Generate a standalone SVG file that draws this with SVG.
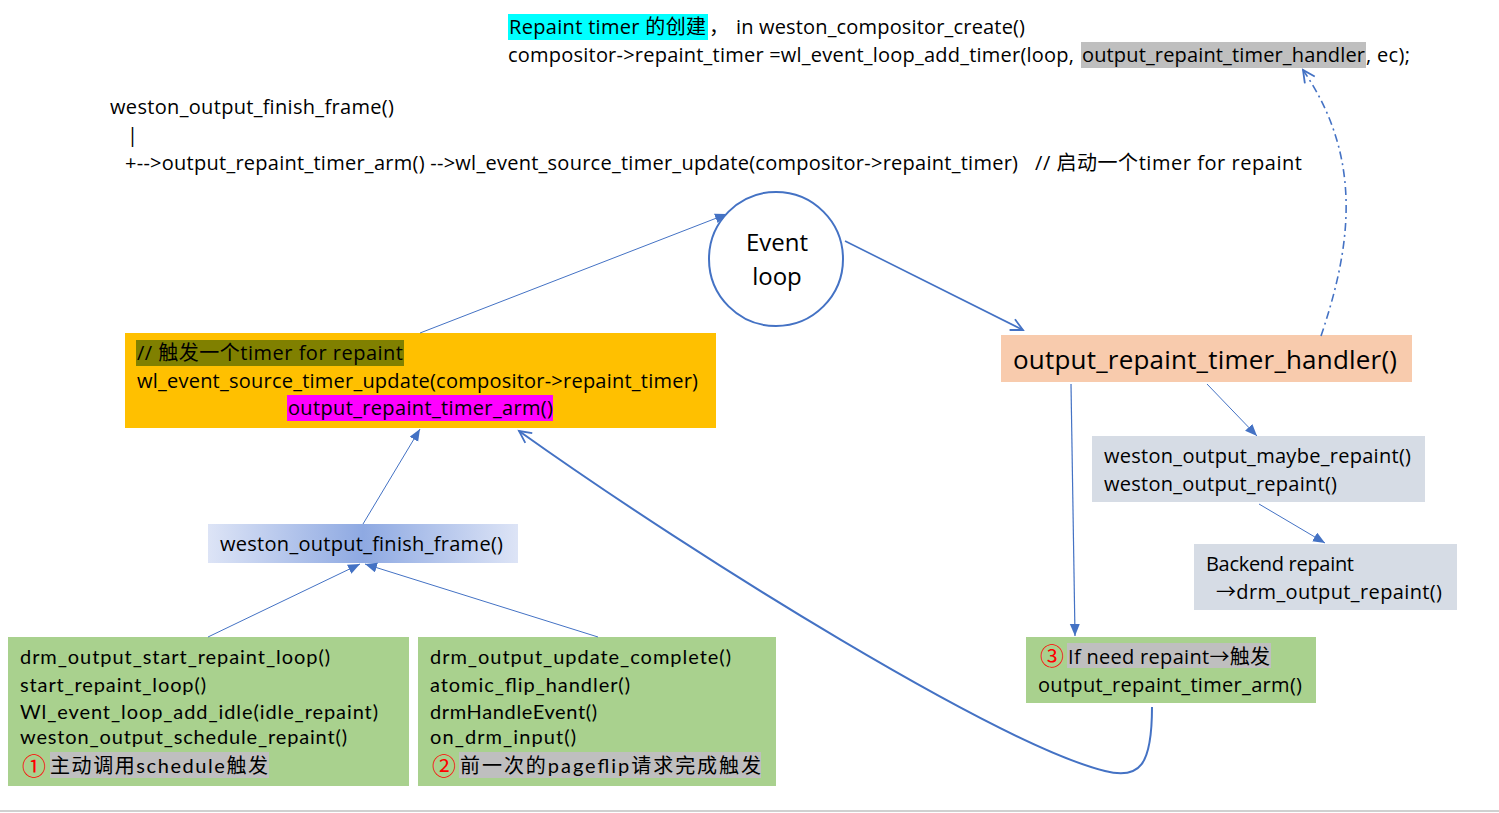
<svg xmlns="http://www.w3.org/2000/svg" width="1499" height="813" viewBox="0 0 1499 813">
<defs>
<style>
text{font-family:"Open Sans","Noto Sans CJK SC",sans-serif;font-size:20px;fill:#000}
.cal{font-family:Lato,"Noto Sans CJK SC",sans-serif}
.red{fill:#FF0000;font-family:"Noto Sans CJK SC",sans-serif;font-size:24px}
.ln{stroke:#4472C4;fill:none}
</style>
<marker id="tri" markerUnits="userSpaceOnUse" markerWidth="14" markerHeight="12" refX="12" refY="5" orient="auto">
<path d="M0,0 L12,5 L0,10 Z" fill="#4472C4"/>
</marker>
<marker id="vee" markerUnits="userSpaceOnUse" markerWidth="16" markerHeight="16" refX="13" refY="7" orient="auto">
<path d="M1,1 L13,7 L1,13" fill="none" stroke="#4472C4" stroke-width="1.8"/>
</marker>
<linearGradient id="grad" x1="0" y1="0" x2="1" y2="0">
<stop offset="0" stop-color="#DDE4F6"/>
<stop offset="0.5" stop-color="#8EA9E2"/>
<stop offset="1" stop-color="#DDE4F6"/>
</linearGradient>
</defs>
<rect x="0" y="0" width="1499" height="813" fill="#fff"/>
<line x1="0" y1="811" x2="1499" y2="811" stroke="#D0D0D0" stroke-width="2"/>

<g id="top-note">
<rect x="508" y="14" width="200" height="26" fill="#00FFFF"/>
<rect x="1081" y="42" width="285" height="26" fill="#BFBFBF"/>
<text x="509" y="34" textLength="197">Repaint timer 的创建</text>
<text x="709" y="34">，</text>
<text x="736" y="34" textLength="289">in weston_compositor_create()</text>
<text x="508" y="62" textLength="566">compositor-&gt;repaint_timer =wl_event_loop_add_timer(loop,</text>
<text x="1082" y="62" textLength="283">output_repaint_timer_handler</text>
<text x="1366" y="62" textLength="44">, ec);</text>
</g>

<g id="call-note">
<text x="110" y="114" textLength="284">weston_output_finish_frame()</text>
<text x="127" y="142">|</text>
<text x="125" y="170" textLength="893">+--&gt;output_repaint_timer_arm() --&gt;wl_event_source_timer_update(compositor-&gt;repaint_timer)</text>
<text x="1035" y="170" textLength="267">// 启动一个timer for repaint</text>
</g>

<g id="event-loop">
<circle cx="776" cy="259" r="67" fill="#fff" stroke="#4472C4" stroke-width="2"/>
<text x="777" y="251" text-anchor="middle" style="font-size:24px">Event</text>
<text x="777" y="285" text-anchor="middle" style="font-size:24px">loop</text>
</g>

<g id="timer-arm">
<rect x="125" y="333" width="591" height="95" fill="#FFC000"/>
<rect x="136" y="340" width="268" height="26" fill="#808000"/>
<rect x="287" y="395" width="266" height="26" fill="#FF00FF"/>
<text x="137" y="360" textLength="266">// 触发一个timer for repaint</text>
<text x="137" y="388" textLength="561">wl_event_source_timer_update(compositor-&gt;repaint_timer)</text>
<text x="288" y="415" textLength="265">output_repaint_timer_arm()</text>
</g>

<g id="timer-handler">
<rect x="1001" y="335" width="411" height="47" fill="#F8CBAD"/>
<text x="1013" y="369" textLength="384" style="font-size:26px">output_repaint_timer_handler()</text>
</g>

<g id="maybe-repaint">
<rect x="1092" y="436" width="333" height="66" fill="#D6DCE5"/>
<text x="1104" y="463" textLength="307">weston_output_maybe_repaint()</text>
<text x="1104" y="491" textLength="233">weston_output_repaint()</text>
</g>

<g id="backend-repaint">
<rect x="1194" y="544" width="263" height="66" fill="#D6DCE5"/>
<text x="1206" y="571" textLength="148">Backend repaint</text>
<text x="1216" y="599" textLength="226">→drm_output_repaint()</text>
</g>

<g id="finish-frame">
<rect x="208" y="524" width="310" height="39" fill="url(#grad)"/>
<text x="220" y="551" textLength="283">weston_output_finish_frame()</text>
</g>

<g id="start-repaint">
<rect x="8" y="637" width="401" height="149" fill="#A9D18E"/>
<rect x="50" y="752" width="219" height="26" fill="#BFBFBF"/>
<text class="cal" x="20" y="664" textLength="310">drm_output_start_repaint_loop()</text>
<text class="cal" x="20" y="692" textLength="186">start_repaint_loop()</text>
<text class="cal" x="20" y="719" textLength="358">Wl_event_loop_add_idle(idle_repaint)</text>
<text class="cal" x="20" y="744" textLength="327">weston_output_schedule_repaint()</text>
<text class="red" x="22" y="775">①</text>
<text class="cal" x="50" y="773" textLength="218">主动调用schedule触发</text>
</g>

<g id="update-complete">
<rect x="418" y="637" width="358" height="149" fill="#A9D18E"/>
<rect x="459" y="752" width="302" height="26" fill="#BFBFBF"/>
<text class="cal" x="430" y="664" textLength="301">drm_output_update_complete()</text>
<text class="cal" x="430" y="692" textLength="200">atomic_flip_handler()</text>
<text class="cal" x="430" y="719" textLength="167">drmHandleEvent()</text>
<text class="cal" x="430" y="744" textLength="146">on_drm_input()</text>
<text class="red" x="432" y="775">②</text>
<text class="cal" x="460" y="773" textLength="301">前一次的pageflip请求完成触发</text>
</g>

<g id="need-repaint">
<rect x="1026" y="637" width="290" height="66" fill="#A9D18E"/>
<rect x="1067" y="643" width="204" height="25" fill="#BFBFBF"/>
<text class="red" x="1040" y="665">③</text>
<text x="1068" y="664" textLength="202">If need repaint→触发</text>
<text x="1038" y="692" textLength="264">output_repaint_timer_arm()</text>
</g>

<g id="connectors">
<path class="ln" d="M420,333 L727,214" stroke-width="1" marker-end="url(#tri)"/>
<path class="ln" d="M845,241 L1023,330" stroke-width="1.6" marker-end="url(#vee)"/>
<path class="ln" d="M1207,384 L1257,436" stroke-width="1" marker-end="url(#tri)"/>
<path class="ln" d="M1259,504 L1325,543" stroke-width="1" marker-end="url(#tri)"/>
<path class="ln" d="M1071,384 L1075,636" stroke-width="1.2" marker-end="url(#tri)"/>
<path class="ln" d="M1321,336 C1350,250 1365,160 1303,70" stroke-width="1.6" stroke-dasharray="8,4,2,4" marker-end="url(#vee)"/>
<path class="ln" d="M1152,707 C1152,765 1140,780 1105,771 C1000,745 700,560 519,431" stroke-width="2" marker-end="url(#vee)"/>
<path class="ln" d="M363,524 L420,429" stroke-width="1" marker-end="url(#tri)"/>
<path class="ln" d="M208,637 L360,564" stroke-width="1" marker-end="url(#tri)"/>
<path class="ln" d="M598,637 L365,564" stroke-width="1" marker-end="url(#tri)"/>
</g>
</svg>
